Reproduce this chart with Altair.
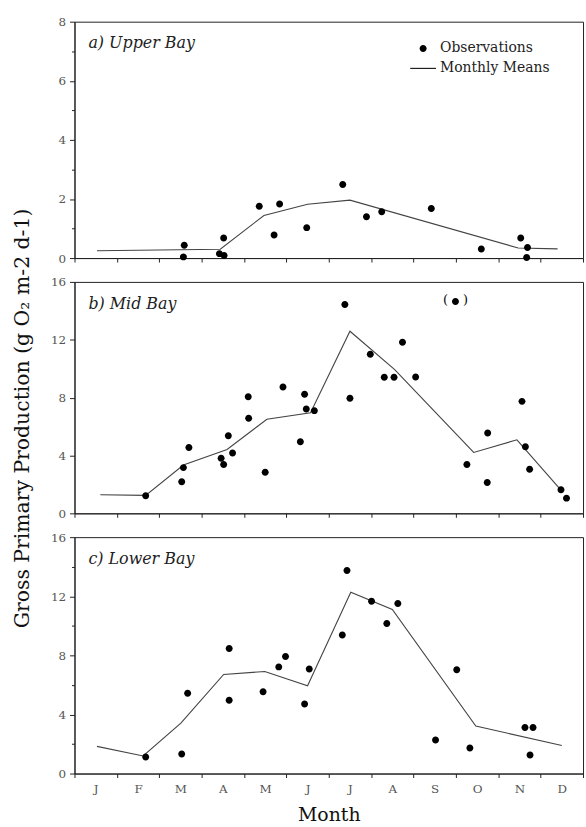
import altair as alt
import pandas as pd

MONTHS = ["J", "F", "M", "A", "M", "J", "J", "A", "S", "O", "N", "D"]

# Upper Bay
upper_obs_x = [2.59, 2.57, 3.52, 3.42, 3.53, 4.36, 4.84, 4.71, 5.48, 6.33, 6.89, 7.25, 8.42, 9.60, 10.53, 10.69, 10.67]
upper_obs_y = [0.43, 0.04, 0.68, 0.15, 0.09, 1.75, 1.83, 0.78, 1.03, 2.49, 1.40, 1.57, 1.68, 0.31, 0.68, 0.36, 0.02]
upper_mean_x = [0.53, 3.44, 4.47, 5.50, 6.50, 10.47, 11.40]
upper_mean_y = [0.25, 0.30, 1.44, 1.82, 1.96, 0.34, 0.31]

# Mid Bay
mid_obs_x = [1.68, 2.53, 2.57, 2.70, 3.46, 3.52, 3.63, 3.73, 4.10, 4.11, 4.50, 4.92, 5.33, 5.43, 5.47, 5.66,
             6.38, 6.50, 6.98, 7.31, 7.54, 7.74, 8.05, 8.99, 9.26, 9.74, 9.75, 10.56, 10.64, 10.74, 11.48, 11.61]
mid_obs_y = [1.22, 2.18, 3.16, 4.55, 3.80, 3.37, 5.36, 4.17, 8.06, 6.57, 2.84, 8.74, 4.95, 8.24, 7.21, 7.10,
             14.44, 7.95, 11.00, 9.41, 9.41, 11.83, 9.43, 14.65, 3.37, 2.13, 5.56, 7.74, 4.60, 3.04, 1.63, 1.05]
mid_outlier_x = [8.99]
mid_outlier_y = [14.65]
mid_mean_x = [0.61, 1.68, 2.57, 3.60, 4.54, 5.57, 6.50, 7.55, 9.42, 10.44, 11.48]
mid_mean_y = [1.28, 1.24, 3.34, 4.42, 6.50, 6.95, 12.59, 9.95, 4.21, 5.08, 1.60]

# Lower Bay
lower_obs_x = [1.68, 2.53, 2.67, 3.65, 3.65, 4.45, 4.82, 4.98, 5.43, 5.54, 6.32, 6.43, 7.01, 7.37, 7.63,
               8.52, 9.02, 9.33, 10.63, 10.75, 10.82]
lower_obs_y = [1.12, 1.32, 5.43, 8.46, 4.96, 5.54, 7.22, 7.92, 4.71, 7.07, 9.38, 13.75, 11.66, 10.16, 11.51,
               2.27, 7.02, 1.73, 3.12, 1.26, 3.12]
lower_mean_x = [0.53, 1.62, 2.51, 3.52, 4.49, 5.50, 6.52, 7.50, 9.47, 11.50]
lower_mean_y = [1.84, 1.19, 3.41, 6.71, 6.91, 5.94, 12.27, 11.10, 3.21, 1.90]

FONT = "DejaVu Serif"
KINDS = ["Observations", "Monthly Means"]
CIRCLE = "M-0.27,0A0.27,0.27 0 1,1 0.27,0A0.27,0.27 0 1,1 -0.27,0Z"
DASH = "M-1,-0.04L1,-0.04L1,0.04L-1,0.04Z"
SYM = 676
shape_scale = alt.Scale(domain=KINDS, range=[CIRCLE, DASH])

# label expression: month letter at month centres (i + 0.5), blank at boundaries
month_expr = "''"
for i in reversed(range(len(MONTHS))):
    month_expr = "(datum.value == " + str(i + 0.5) + " ? '" + MONTHS[i] + "' : " + month_expr + ")"
x_vals = [i * 0.5 for i in range(25)]
tick_op = {"condition": {"test": "datum.value % 1 === 0", "value": 1}, "value": 0}


def panel(obs_x, obs_y, mean_x, mean_y, ymax, ystep, label, bottom, legend, ytitle, height,
          out_x=None, out_y=None):
    obs = pd.DataFrame({"month": obs_x, "gpp": obs_y, "kind": "Observations"})
    means = pd.DataFrame({"month": mean_x, "gpp": mean_y, "kind": "Monthly Means"})
    if bottom:
        xaxis = alt.Axis(values=x_vals, grid=False, labelOverlap=False, labelFlush=False,
                         labelExpr=month_expr,
                         tickOpacity=tick_op, tickSize=4, labelPadding=6, labelFontSize=12, labelColor="#555",
                         labelFont=FONT, titleFont=FONT,
                         title="Month", titleFontSize=19, titleFontWeight="normal", titlePadding=11)
    else:
        xaxis = alt.Axis(values=x_vals, labels=False, title=None, tickSize=4, grid=False, tickOpacity=tick_op)
    yvals = [i * ystep / 2 for i in range(int(ymax / (ystep / 2)) + 1)]
    ykw = dict(values=yvals, grid=False, labelOverlap=False,
               labelExpr="datum.value % " + str(ystep) + " === 0 ? datum.value : ''",
               tickSize={"condition": {"test": "datum.value % " + str(ystep) + " === 0", "value": 5}, "value": 3},
               labelFontSize=12, labelColor="#555", labelPadding=4, labelFont=FONT, titleFont=FONT)
    if ytitle:
        yaxis = alt.Axis(title=ytitle, titleFontSize=20.5, titleFontWeight="normal", titlePadding=18,
                         titleY=137, **ykw)
    else:
        yaxis = alt.Axis(title=None, **ykw)
    xs = alt.Scale(domain=[0, 12], nice=False, zero=False)
    ys = alt.Scale(domain=[0, ymax], nice=False)
    if legend:
        leg = alt.Legend(title=None, orient="none", legendX=338, legendY=14, labelFont=FONT,
                         labelFontSize=14, labelColor="#222", symbolSize=SYM, symbolFillColor="#222",
                         symbolStrokeWidth=0, rowPadding=-3, labelOffset=4, padding=0)
    else:
        leg = None
    pts = alt.Chart(obs).mark_point(filled=True, color="black", opacity=1, size=SYM).encode(
        x=alt.X("month:Q", scale=xs, axis=xaxis),
        y=alt.Y("gpp:Q", scale=ys, axis=yaxis),
        shape=alt.Shape("kind:N", scale=shape_scale, legend=leg),
    )
    line = alt.Chart(means).mark_line(color="#444", strokeWidth=1.1).encode(
        x=alt.X("month:Q", scale=xs, axis=xaxis),
        y=alt.Y("gpp:Q", scale=ys, axis=yaxis),
    )
    txt = alt.Chart(pd.DataFrame({"t": [label]})).mark_text(
        font=FONT, fontStyle="italic", fontSize=16, align="left", baseline="middle", color="#222"
    ).encode(x=alt.value(14), y=alt.value(22), text="t:N")
    layers = [line, pts, txt]
    if out_x is not None:
        od = pd.DataFrame({"month": out_x, "gpp": out_y})
        lp = alt.Chart(od).mark_text(text="(", font=FONT, fontSize=13, dx=-10, dy=-1).encode(
            x=alt.X("month:Q", scale=xs), y=alt.Y("gpp:Q", scale=ys))
        rp = alt.Chart(od).mark_text(text=")", font=FONT, fontSize=13, dx=10, dy=-1).encode(
            x=alt.X("month:Q", scale=xs), y=alt.Y("gpp:Q", scale=ys))
        layers += [lp, rp]
    return alt.layer(*layers).properties(width=512, height=height)


a = panel(upper_obs_x, upper_obs_y, upper_mean_x, upper_mean_y, 8, 2, "a) Upper Bay", False, True, None, 238)
b = panel(mid_obs_x, mid_obs_y, mid_mean_x, mid_mean_y, 16, 4, "b) Mid Bay", False, False,
          "Gross Primary Production (g O\u2082 m-2 d-1)", 233, mid_outlier_x, mid_outlier_y)
c = panel(lower_obs_x, lower_obs_y, lower_mean_x, lower_mean_y, 16, 4, "c) Lower Bay", True, False, None, 238)

chart = alt.vconcat(a, b, c, spacing=24, bounds="flush").resolve_legend(shape="independent").properties(
    padding={"left": 12, "top": 12, "right": 2, "bottom": 0}, background="white"
).configure_view(stroke="#222", strokeWidth=1).configure_axis(
    labelFont=FONT, titleFont=FONT, domainColor="#222", tickColor="#222", grid=False, titleColor="#111"
)

chart.save("out.html", embed_options={"renderer": "svg", "actions": False})
